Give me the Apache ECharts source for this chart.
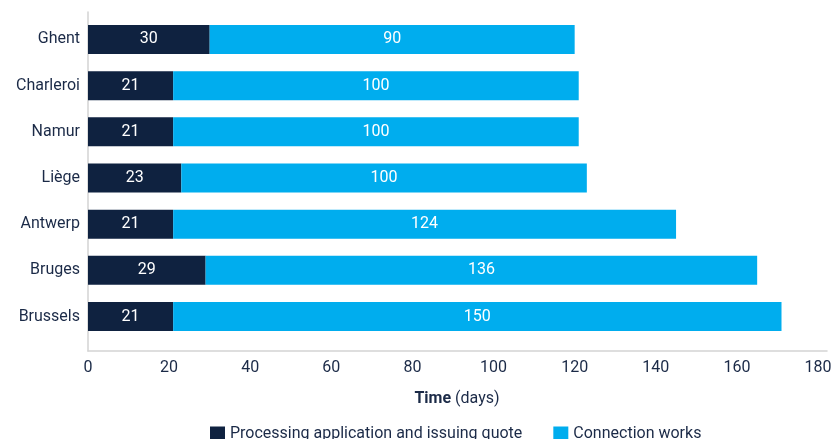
<!DOCTYPE html>
<html>
<head>
<meta charset="utf-8">
<script src="https://cdn.jsdelivr.net/npm/echarts@6/dist/echarts.min.js"></script>
<style>
  html, body { margin: 0; padding: 0; background: #fff; }
  #chart { width: 839px; height: 439px; }
</style>
</head>
<body>
<div id="chart"></div>
<script>
// cities, top to bottom as in the picture
var cities = ['Ghent', 'Charleroi', 'Namur', 'Liège', 'Antwerp', 'Bruges', 'Brussels'];
var processing = [30, 21, 21, 23, 21, 29, 21];
var connection = [90, 100, 100, 100, 124, 136, 150];
var seriesNames = ['Processing application and issuing quote', 'Connection works'];

const Dark = '#0f2240';
const Light = '#00adee';
const TextColor = '#1b2a47';
const Font = 'Roboto';

var chart = echarts.init(document.getElementById('chart'));

var option = {
  animation: false,
  textStyle: { fontFamily: Font },
  legend: {
    left: 205,
    top: 421,
    itemWidth: 15,
    itemHeight: 15,
    itemGap: 31,
    icon: 'rect',
    textStyle: { color: TextColor, fontSize: 16, fontFamily: Font },
    data: seriesNames
  },
  grid: [
    // bars
    { left: 88, right: 21, top: 16.4, height: 323.2 },
    // only the axis lines (they run a little longer than the bars' grid)
    { left: 88, right: 12, top: 12, bottom: 88 }
  ],
  xAxis: [{
    gridIndex: 0,
    type: 'value',
    min: 0,
    max: 180,
    interval: 20,
    axisLine: { show: false },
    axisTick: { show: false },
    splitLine: { show: false },
    axisLabel: { color: TextColor, fontSize: 16, margin: 20, fontFamily: Font },
    name: '{b|Time} (days)',
    nameLocation: 'middle',
    nameGap: 51,
    nameTextStyle: {
      color: TextColor,
      fontSize: 16,
      fontFamily: Font,
      padding: [0, 0, 0, 8],
      rich: {
        b: { fontWeight: 'bold', fontSize: 16, color: TextColor, fontFamily: Font }
      }
    }
  }, {
    gridIndex: 1,
    type: 'value',
    min: 0,
    max: 1,
    axisLine: { show: true, lineStyle: { color: '#d3d3d3', width: 1.5 } },
    axisTick: { show: false },
    axisLabel: { show: false },
    splitLine: { show: false }
  }],
  yAxis: [{
    gridIndex: 0,
    type: 'category',
    inverse: true,
    data: cities,
    axisLine: { show: false },
    axisTick: { show: false },
    axisLabel: { color: TextColor, fontSize: 16, margin: 8, fontFamily: Font }
  }, {
    gridIndex: 1,
    type: 'value',
    min: 0,
    max: 1,
    axisLine: { show: true, lineStyle: { color: '#d3d3d3', width: 1.5 } },
    axisTick: { show: false },
    axisLabel: { show: false },
    splitLine: { show: false }
  }],
  series: [{
    name: seriesNames[0],
    type: 'bar',
    stack: 'time',
    barWidth: 29,
    itemStyle: { color: Dark },
    label: { show: true, position: 'inside', color: '#fff', fontSize: 16, fontFamily: Font },
    data: processing
  }, {
    name: seriesNames[1],
    type: 'bar',
    stack: 'time',
    barWidth: 29,
    itemStyle: { color: Light },
    label: { show: true, position: 'inside', color: '#fff', fontSize: 16, fontFamily: Font },
    data: connection
  }]
};

chart.setOption(option);
</script>
</body>
</html>
